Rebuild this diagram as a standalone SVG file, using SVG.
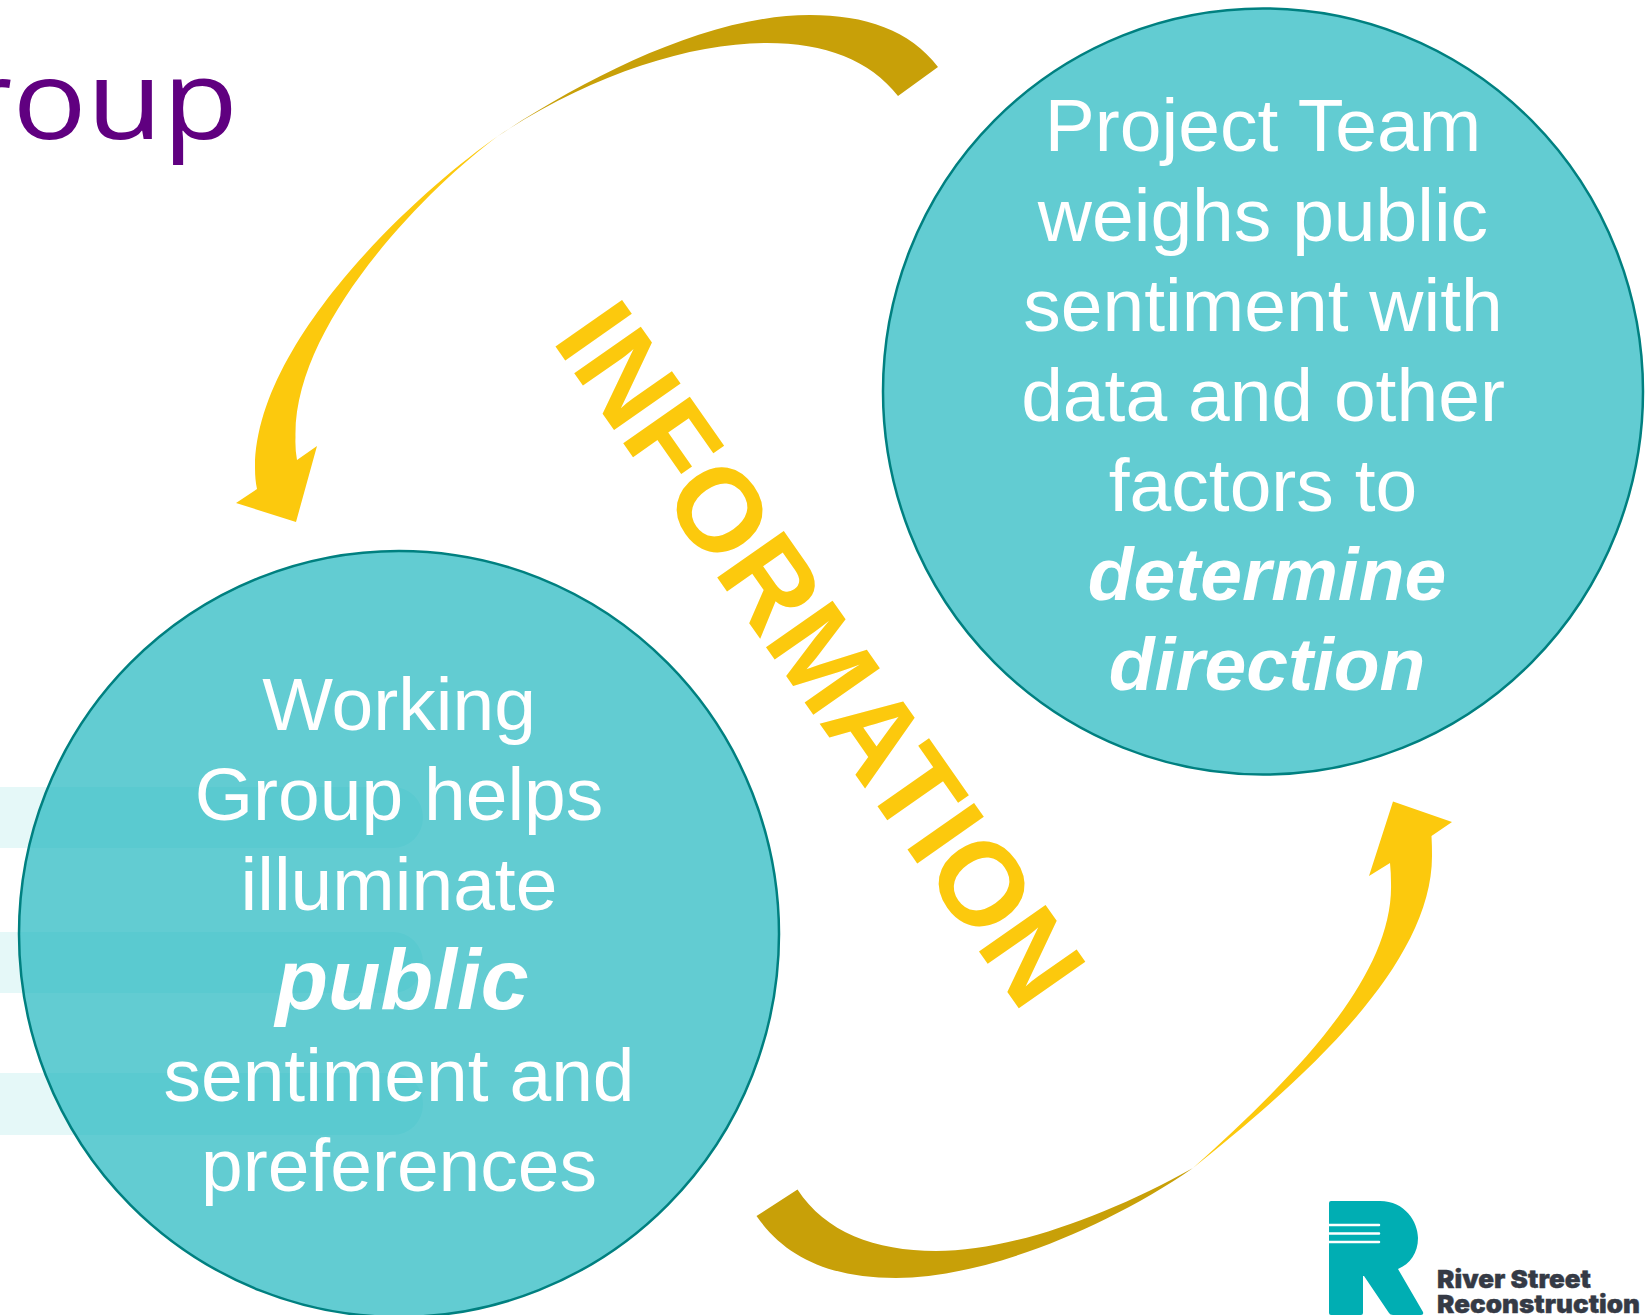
<svg xmlns="http://www.w3.org/2000/svg" width="1648" height="1315" viewBox="0 0 1648 1315">
<style>
.t{font-family:"Liberation Sans",Arial,sans-serif;font-size:75px;fill:#fff;text-anchor:middle}
.b{font-weight:bold;font-style:italic}
.circle{fill:#1FB7BF;fill-opacity:.7;stroke:#008080;stroke-width:2.5}
.band{fill:#E5F8F8}
.lt{font-family:Inter,"Liberation Sans",sans-serif;font-weight:900;font-size:25px;fill:#353A45;stroke:#353A45;stroke-width:.4}
</style>
<rect width="1648" height="1315" fill="#fff"/>
<text id="title" x="-38" y="139" font-family="Open Sans, Liberation Sans, sans-serif" font-size="110" fill="#600080" textLength="276" lengthAdjust="spacingAndGlyphs">roup</text>
<g id="bands">
<path class="band" d="M0 787H393a30 30 0 0 1 30 30v1a30 30 0 0 1-30 30H0z"/>
<path class="band" d="M0 932H393a30 30 0 0 1 30 30v1a30 30 0 0 1-30 30H0z"/>
<path class="band" d="M0 1073H393a30 30 0 0 1 30 30v2a30 30 0 0 1-30 30H0z"/>
</g>
<g id="node-working-group">
<ellipse class="circle" cx="399" cy="934" rx="380" ry="383"/>
<text class="t" x="399" y="730">Working</text>
<text class="t" x="399" y="820">Group helps</text>
<text class="t" x="399" y="910">illuminate</text>
<text class="t b" x="402" y="1009" style="font-size:86px">public</text>
<text class="t" x="399" y="1101">sentiment and</text>
<text class="t" x="399" y="1191">preferences</text>
</g>
<g id="node-project-team">
<ellipse class="circle" cx="1263" cy="391.500" rx="380" ry="383"/>
<text class="t" x="1263" y="151">Project Team</text>
<text class="t" x="1263" y="241">weighs public</text>
<text class="t" x="1263" y="331">sentiment with</text>
<text class="t" x="1263" y="421">data and other</text>
<text class="t" x="1263" y="511">factors to</text>
<text class="t b" x="1267" y="600">determine</text>
<text class="t b" x="1267" y="690">direction</text>
</g>
<g id="connectors">
<path fill="#C8A008" d="M938 67C910 30 865 15 810 15C710 15 590 75 498 136C590 75 690 43 767 43C825 43 870 60 898 96Z"/>
<path fill="#FCC90D" d="M498 136C420 190 255 340 255 468Q255 480 257 489L236 503L296 522L317 446L297 460Q295 450 295.500 437C293 325 425 190 498 136Z"/>
<path fill="#C8A008" d="M756.500 1216C785 1257 830 1278 896 1278C980 1278 1100 1232 1193 1168C1105 1217 1010 1251 936 1251C875 1251 825 1232 797.500 1189.500Z"/>
<path fill="#FCC90D" d="M1193 1168C1290 1090 1432 970 1432 856Q1432 845 1431.500 836L1452 822L1393 801.500L1369 876L1390 863Q1391 873 1391 883C1394 980 1285 1085 1193 1168Z"/>
</g>
<text id="label-information" transform="translate(551 340) rotate(55)" font-family="Liberation Sans, Arial, sans-serif" font-weight="bold" font-size="118" fill="#FCC90D">INFORMATION</text>
<g id="logo">
<path fill="#00AEB3" d="M1329 1203q0-2 2-2H1380C1405 1201 1418 1222 1418 1238C1418 1253 1410 1264 1398 1269L1423 1312q1 3-2 3H1393q-3 0-4-2L1364 1276H1363V1313q0 2-2 2H1331q-2 0-2-2Z"/>
<path stroke="#fff" stroke-width="2.500" stroke-linecap="round" d="M1329 1225H1379M1329 1233.500H1379M1329 1242H1379"/>
<text class="lt" x="1437" y="1288" textLength="154" lengthAdjust="spacingAndGlyphs">River Street</text>
<text class="lt" x="1437" y="1313" textLength="203" lengthAdjust="spacingAndGlyphs">Reconstruction</text>
</g>
</svg>
